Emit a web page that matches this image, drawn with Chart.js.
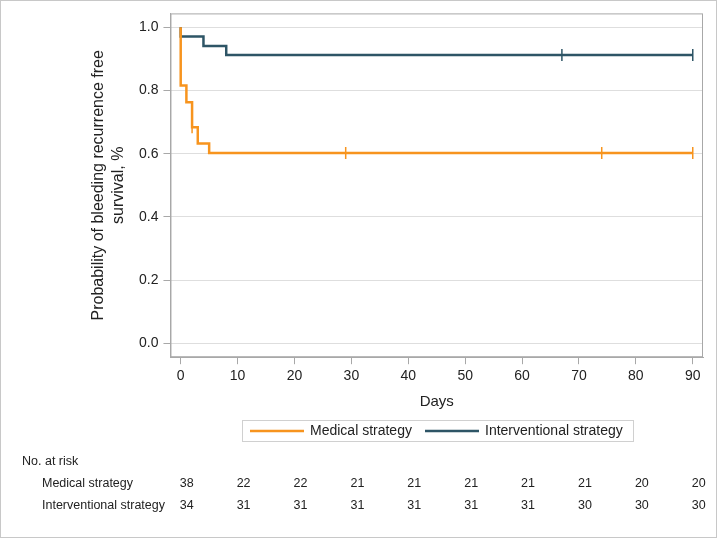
<!DOCTYPE html>
<html>
<head>
<meta charset="utf-8">
<script src="https://cdn.jsdelivr.net/npm/chart.js@4/dist/chart.umd.min.js"></script>
<style>
  body { margin: 0; background: #fff; }
  #wrap { width: 717px; height: 538px; }
</style>
</head>
<body>
<div id="wrap"><canvas id="kmChart" width="717" height="538"></canvas></div>
<script>
// x axis ticks (days) and y axis ticks
var dayTicks = [0, 10, 20, 30, 40, 50, 60, 70, 80, 90];
var probTicks = [0, 0.2, 0.4, 0.6, 0.8, 1.0];

// Kaplan-Meier steps
var medTime = [0, 0, 1, 2, 3, 5, 90];
var medSurv = [1.0, 0.816, 0.763, 0.684, 0.632, 0.602, 0.602];
var intTime = [0, 0, 4, 8, 90];
var intSurv = [1.0, 0.971, 0.941, 0.912, 0.912];

// censored observations
var medCensTime = [2, 29, 74, 90];
var medCensSurv = [0.684, 0.602, 0.602, 0.602];
var intCensTime = [67, 90];
var intCensSurv = [0.912, 0.912];

// numbers at risk
var riskLabels = ['Medical strategy', 'Interventional strategy'];
var medRisk = [38, 22, 22, 21, 21, 21, 21, 21, 20, 20];
var intRisk = [34, 31, 31, 31, 31, 31, 31, 30, 30, 30];

var orange = '#F7941E';
var teal = '#2E5566';
var font = '"Liberation Sans", Arial, sans-serif';

function pts(xs, ys) {
    return xs.map(function (x, i) { return { x: x, y: ys[i] }; });
}

// draws plot frame, legend box and the risk table
var extras = {
    id: 'extras',
    afterDraw: function (chart) {
        var ctx = chart.ctx;
        var a = chart.chartArea;
        var xs = chart.scales.x;
        ctx.save();
        ctx.strokeStyle = '#a8a8a8';
        ctx.lineWidth = 1;
        ctx.strokeRect(a.left + 0.5, a.top + 0.5, a.right - a.left - 1, a.bottom - a.top - 1);

        // outer frame
        ctx.strokeStyle = '#c8c8c8';
        ctx.strokeRect(0.5, 0.5, chart.width - 1, chart.height - 1);

        // legend
        ctx.strokeStyle = '#d0d0d0';
        ctx.strokeRect(242.5, 420.5, 391, 21);
        ctx.lineWidth = 2.5;
        ctx.strokeStyle = orange;
        ctx.beginPath(); ctx.moveTo(250, 431); ctx.lineTo(304, 431); ctx.stroke();
        ctx.strokeStyle = teal;
        ctx.beginPath(); ctx.moveTo(425, 431); ctx.lineTo(479, 431); ctx.stroke();
        ctx.fillStyle = '#222';
        ctx.font = '14px ' + font;
        ctx.textBaseline = 'middle';
        ctx.textAlign = 'left';
        ctx.fillText('Medical strategy', 310, 431);
        ctx.fillText('Interventional strategy', 485, 431);

        // risk table
        ctx.font = '12.5px ' + font;
        ctx.fillText('No. at risk', 22, 462);
        ctx.fillText(riskLabels[0], 42, 484);
        ctx.fillText(riskLabels[1], 42, 506);
        ctx.textAlign = 'center';
        dayTicks.forEach(function (d, i) {
            var px = xs.getPixelForValue(d) + 6;
            ctx.fillText(String(medRisk[i]), px, 484);
            ctx.fillText(String(intRisk[i]), px, 506);
        });
        ctx.restore();
    }
};

document.addEventListener("DOMContentLoaded", function () {
    var ctx = document.getElementById('kmChart').getContext('2d');
    var chart = new Chart(ctx, {
        type: 'scatter',
        data: {
            datasets: [
                {
                    label: 'Medical strategy',
                    data: pts(medTime, medSurv),
                    showLine: true,
                    stepped: 'before',
                    borderColor: orange,
                    borderWidth: 2.5,
                    pointRadius: 0,
                    fill: false
                },
                {
                    label: 'Interventional strategy',
                    data: pts(intTime, intSurv),
                    showLine: true,
                    stepped: 'before',
                    borderColor: teal,
                    borderWidth: 2.5,
                    pointRadius: 0,
                    fill: false
                },
                {
                    label: 'Medical censored',
                    data: pts(medCensTime, medCensSurv),
                    pointStyle: 'line',
                    rotation: 90,
                    pointRadius: 6,
                    borderColor: orange,
                    borderWidth: 1.5
                },
                {
                    label: 'Interventional censored',
                    data: pts(intCensTime, intCensSurv),
                    pointStyle: 'line',
                    rotation: 90,
                    pointRadius: 6,
                    borderColor: teal,
                    borderWidth: 1.5
                }
            ]
        },
        options: {
            responsive: false,
            animation: false,
            events: [],
            layout: { padding: { left: 85, top: 12, right: 14, bottom: 123 } },
            plugins: {
                legend: { display: false },
                tooltip: { enabled: false }
            },
            scales: {
                x: {
                    type: 'linear',
                    min: -1.8,
                    max: 91.8,
                    afterBuildTicks: function (s) { s.ticks = dayTicks.map(function (v) { return { value: v }; }); },
                    grid: { display: true, drawOnChartArea: false, tickColor: '#a8a8a8', tickLength: 7 },
                    border: { color: '#a8a8a8' },
                    ticks: { color: '#222', font: { family: font, size: 14 }, padding: 4, maxRotation: 0 },
                    title: { display: true, text: 'Days', color: '#222', font: { family: font, size: 15 }, padding: { top: 4 } }
                },
                y: {
                    min: -0.044,
                    max: 1.044,
                    afterBuildTicks: function (s) { s.ticks = probTicks.map(function (v) { return { value: v }; }); },
                    grid: { color: '#dedede', tickColor: '#a8a8a8', tickLength: 7 },
                    border: { color: '#a8a8a8' },
                    ticks: {
                        color: '#222',
                        font: { family: font, size: 14 },
                        padding: 5,
                        callback: function (v) { return v.toFixed(1); }
                    },
                    title: {
                        display: true,
                        text: ['Probability of bleeding recurrence free', 'survival, %'],
                        color: '#222',
                        font: { family: font, size: 16, lineHeight: 1.25 },
                        padding: { bottom: 5 }
                    }
                }
            }
        },
        plugins: [extras]
    });
});
</script>
</body>
</html>
